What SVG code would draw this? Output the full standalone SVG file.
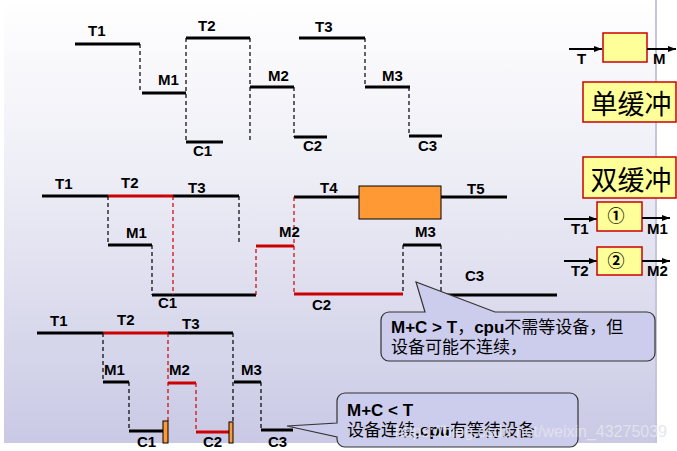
<svg xmlns="http://www.w3.org/2000/svg" width="677" height="451" viewBox="0 0 677 451">
<defs>
<linearGradient id="bg" x1="0" y1="0" x2="0" y2="1">
<stop offset="0" stop-color="#ffffff"/>
<stop offset="0.4" stop-color="#ededf6"/>
<stop offset="1" stop-color="#c9c9e5"/>
</linearGradient>
<marker id="ah" markerWidth="8" markerHeight="6" refX="8" refY="3" orient="auto" markerUnits="userSpaceOnUse">
<path d="M0,0 L8,3 L0,6 Z" fill="#000"/>
</marker>
<style>
.ln{stroke:#000;stroke-width:3;fill:none}
.rd{stroke:#cc0000;stroke-width:3;fill:none}
.dk{stroke:#000;stroke-width:1.2;stroke-dasharray:4,3;fill:none}
.dr{stroke:#cc0000;stroke-width:1.2;stroke-dasharray:4,3;fill:none}
.lb{font-family:"Liberation Sans",Arial,sans-serif;font-weight:bold;font-size:15px;fill:#000}
.cj{font-family:"Noto Sans CJK SC",sans-serif;font-size:27px;fill:#000}
.ct{font-family:"Liberation Sans","Noto Sans CJK SC",sans-serif;font-size:17px;fill:#000}
.cn{font-family:"Noto Sans CJK SC",sans-serif;font-size:17px;font-weight:bold;fill:#000}
.bx{fill:#ffff99;stroke:#cc0000;stroke-width:1.5}
.or{fill:#ff9933;stroke:#000;stroke-width:1}
.ar{stroke:#000;stroke-width:2;marker-end:url(#ah)}
.co{fill:#ccccec;stroke:#333;stroke-width:1.2}
</style>
</defs>
<rect x="0" y="0" width="677" height="451" fill="#fff"/>
<rect x="4" y="0" width="653" height="443" fill="url(#bg)"/>
<line x1="656" y1="0" x2="656" y2="443" stroke="#c4c4de" stroke-width="2"/>

<g id="single-timing">
<path class="ln" d="M75,44H140 M142,93H186 M186,38H250 M186,142H223 M250,87H294 M294,137H327 M299,38H365 M365,87H410 M409,136H442"/>
<path class="dk" d="M140,44V93 M186,38V142 M250,38V140 M294,87V137 M365,38V87 M409,87V136"/>
<text class="lb" x="88" y="36">T1</text>
<text class="lb" x="158" y="85">M1</text>
<text class="lb" x="198" y="31">T2</text>
<text class="lb" x="193" y="156">C1</text>
<text class="lb" x="268" y="81">M2</text>
<text class="lb" x="303" y="151">C2</text>
<text class="lb" x="315" y="32">T3</text>
<text class="lb" x="382" y="81">M3</text>
<text class="lb" x="418" y="151">C3</text>
</g>

<g id="single-buffer">
<line class="ar" x1="569" y1="49" x2="602" y2="49"/>
<rect class="bx" x="603" y="33" width="44" height="29"/>
<line class="ar" x1="647" y1="49" x2="676" y2="49"/>
<text class="lb" x="577" y="64">T</text>
<text class="lb" x="653" y="64">M</text>
<rect class="bx" x="583" y="82" width="93" height="40"/>
<text class="cj" x="631" y="114" text-anchor="middle">单缓冲</text>
</g>

<g id="double-buffer">
<rect class="bx" x="583" y="157" width="93" height="41"/>
<text class="cj" x="631" y="190" text-anchor="middle">双缓冲</text>
<line class="ar" x1="564" y1="219" x2="597" y2="219"/>
<rect class="bx" x="597" y="202" width="45" height="29"/>
<text class="cn" x="616" y="222" text-anchor="middle">①</text>
<line class="ar" x1="642" y1="218" x2="670" y2="218"/>
<text class="lb" x="571" y="234">T1</text>
<text class="lb" x="647" y="234">M1</text>
<line class="ar" x1="564" y1="261" x2="597" y2="261"/>
<rect class="bx" x="597" y="247" width="45" height="28"/>
<text class="cn" x="616" y="267" text-anchor="middle">②</text>
<line class="ar" x1="642" y1="261" x2="670" y2="261"/>
<text class="lb" x="571" y="276">T2</text>
<text class="lb" x="647" y="276">M2</text>
</g>

<g id="timing-gt">
<path class="ln" d="M42,196H108 M173,196H239 M108,245H152 M152,295H256 M294,197H360 M441,197H507 M403,245H441 M441,295H557"/>
<path class="rd" d="M108,196H173 M256,246H294 M294,294H403"/>
<path class="dk" d="M108,196V245 M152,245V295 M239,196V242 M403,245V294 M441,245V295"/>
<path class="dr" d="M173,196V295 M256,295V246 M294,197V294"/>
<rect class="or" x="359" y="186" width="82" height="33"/>
<text class="lb" x="55" y="189">T1</text>
<text class="lb" x="121" y="188">T2</text>
<text class="lb" x="188" y="193">T3</text>
<text class="lb" x="126" y="238">M1</text>
<text class="lb" x="158" y="308">C1</text>
<text class="lb" x="279" y="237">M2</text>
<text class="lb" x="320" y="193">T4</text>
<text class="lb" x="312" y="310">C2</text>
<text class="lb" x="467" y="194">T5</text>
<text class="lb" x="415" y="237">M3</text>
<text class="lb" x="465" y="281">C3</text>
</g>

<g id="timing-lt">
<path class="ln" d="M37,333H103 M168,333H233 M103,382H129 M129,431H163 M234,382H261 M261,430H293"/>
<path class="rd" d="M103,333H168 M168,383H196 M196,432H229"/>
<path class="dk" d="M103,333V382 M129,382V431 M233,333V422 M261,382V430"/>
<path class="dr" d="M168,333V421 M196,383V432"/>
<rect class="or" x="163" y="421" width="5" height="22"/>
<rect class="or" x="229" y="422" width="4" height="21"/>
<text class="lb" x="50" y="326">T1</text>
<text class="lb" x="117" y="325">T2</text>
<text class="lb" x="182" y="329">T3</text>
<text class="lb" x="104" y="375">M1</text>
<text class="lb" x="169" y="375">M2</text>
<text class="lb" x="241" y="375">M3</text>
<text class="lb" x="137" y="447">C1</text>
<text class="lb" x="203" y="447">C2</text>
<text class="lb" x="268" y="447">C3</text>
</g>

<g id="callout-gt">
<path class="co" d="M389,312 H425 L416,282 L495,312 H647 A8,8 0 0 1 655,320 V353 A8,8 0 0 1 647,361 H389 A8,8 0 0 1 381,353 V320 A8,8 0 0 1 389,312 Z"/>
<text class="ct" x="391" y="333"><tspan font-weight="bold">M+C &gt; T</tspan>，<tspan font-weight="bold">cpu</tspan>不需等设备，但</text>
<text class="ct" x="391" y="353">设备可能不连续，</text>
</g>

<g id="callout-lt">
<path class="co" d="M345,393 H570 A8,8 0 0 1 578,401 V439 A8,8 0 0 1 570,447 H345 A8,8 0 0 1 337,439 V437 L287,426 L337,423 V401 A8,8 0 0 1 345,393 Z"/>
<text class="ct" x="347" y="416" font-weight="bold">M+C &lt; T</text>
<text class="ct" x="347" y="436">设备连续<tspan font-weight="bold">,cpu</tspan>有等待设备</text>
</g>

<text x="667" y="437" text-anchor="end" font-family="Liberation Sans,Arial,sans-serif" font-size="16" fill="#e4e4ee" opacity="0.9">https://blog.csdn.net/weixin_43275039</text>
</svg>
